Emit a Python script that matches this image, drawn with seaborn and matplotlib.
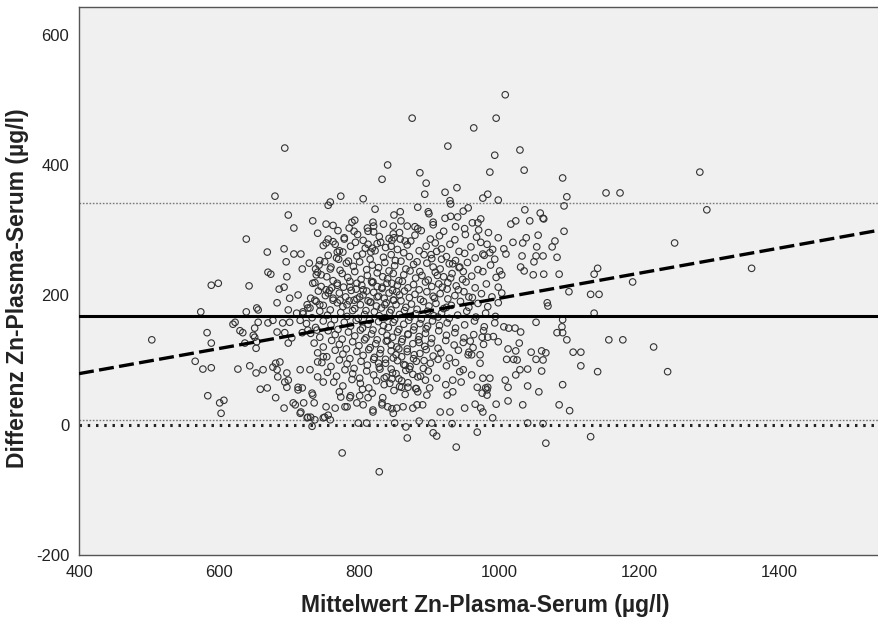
import matplotlib
matplotlib.use("Agg")
import matplotlib.pyplot as plt
import seaborn as sns
import numpy as np
import pandas as pd

# Sparse / outer points: Mittelwert (x) and Differenz (y)
mean_outer = [
    694, 841, 833, 680, 774, 806, 756, 759, 823, 850, 699, 734, 753, 794, 707, 786, 793, 820, 821, 813,
    849, 849, 639, 779, 753, 766, 813, 831, 819, 669, 693, 707, 717, 769, 771, 696, 729, 743, 670, 674,
    719, 759, 739, 746, 697, 846, 850,
    876, 1009, 996, 964, 927, 1030, 994, 1036, 987, 887, 896, 940, 923, 894, 1091, 984, 977, 999, 1097, 1093,
    930, 931, 1153, 1173, 884, 859, 899, 900, 956, 949, 1037, 1059, 1063, 1064, 869, 880, 859, 923, 931, 906,
    941, 970, 974, 951, 971, 1017, 1024, 1044, 1056, 1093, 999, 1039, 1020, 1034, 983, 1080, 1076, 1054, 1033,
    1083, 1053, 1063, 1050, 1007, 1010, 987, 977, 1031, 1036, 1086, 1064, 1141, 1136, 1049, 1001, 1004,
    1287, 1297, 1251, 1361, 1191, 1221, 1241,
    589, 599, 643, 686, 693, 574, 639, 654, 683, 623, 620, 583, 589, 504, 630, 634, 651, 651, 654, 653, 637,
    566, 577, 589, 627, 644, 653, 663, 584, 601, 607, 603, 659, 669, 681, 693, 684, 683, 677, 681, 776, 829,
    706, 721, 736, 717, 753, 766, 731, 726, 733, 749, 756, 783, 820, 841, 854, 799, 811, 851, 713, 719, 733,
    697, 774, 787, 801, 813, 833, 847,
    1131, 1143, 1100, 1069, 1070, 1136, 1053, 1091, 1090, 1083, 1091, 1097, 1157, 1177, 1106, 1117, 1117,
    1141, 1061, 1091, 1057, 1086, 1101, 1067, 1131, 1034, 1041, 1013, 996, 969, 939, 977, 974, 966, 951,
    930, 916, 906, 911, 869, 1041, 1063, 991, 883, 891, 877, 886, 904, 933, 867, 1013, 1024, 1046, 1053,
    1063, 1067, 1011, 1021, 1026, 1030, 1024, 1041, 987, 977, 1009, 1013, 984, 983, 961, 976, 984, 999,
    1029, 1014, 1023, 1031, 1007, 959, 957, 961, 973, 973, 949, 944, 934, 924, 946, 969, 976, 981, 983,
    926, 934, 901, 897, 884, 870, 863, 861, 1061,
    734, 753, 761, 769, 787, 797, 806, 820, 833, 847, 854, 701, 713, 726, 737, 744, 756, 763, 773, 783,
    793, 801, 816, 826, 837, 849, 699, 711, 720, 730, 656, 649, 656, 670, 677, 691, 701, 716, 683, 694,
    704, 699, 719, 727, 740, 687, 697, 694, 699, 716, 713, 709, 734, 741, 749, 730, 741, 749, 716, 727,
    737, 751, 759, 780, 797, 806, 820, 833, 849,
]
diff_outer = [
    426, 400, 378, 352, 352, 348, 338, 343, 332, 323, 323, 314, 309, 315, 303, 303, 298, 312, 306, 298,
    306, 294, 286, 286, 280, 278, 278, 281, 272, 266, 271, 263, 263, 266, 255, 251, 249, 246, 235, 232,
    240, 240, 231, 231, 228, 275, 288,
    472, 508, 472, 457, 429, 423, 415, 392, 389, 388, 372, 365, 358, 355, 380, 355, 349, 346, 351, 337,
    345, 340, 357, 357, 335, 328, 328, 325, 334, 329, 331, 326, 318, 317, 306, 305, 286, 318, 321, 312,
    320, 311, 317, 302, 300, 309, 314, 314, 292, 298, 288, 288, 281, 280, 278, 283, 274, 274, 260,
    258, 260, 260, 251, 271, 263, 265, 263, 243, 237, 232, 232, 241, 232, 231, 237, 231,
    389, 331, 280, 241, 220, 120, 82,
    215, 218, 214, 209, 212, 174, 174, 180, 188, 158, 155, 142, 126, 131, 145, 142, 149, 135, 128, 118, 126,
    98, 86, 88, 86, 91, 80, 85, 45, 34, 38, 18, 55, 57, 42, 26, 74, 85, 89, 95, -43, -72,
    34, 34, 34, 20, 28, 26, 12, 11, -2, 11, 15, 28, 20, 28, 26, 3, 3, 3, 58, 57, 49,
    58, 43, 42, 45, 42, 34, 25,
    201, 201, 205, 188, 183, 172, 158, 162, 151, 142, 142, 131, 131, 131, 112, 112, 91,
    82, 83, 62, 51, 31, 22, -28, -18, 31, 60, 37, 32, -11, -34, 20, 26, 32, 26,
    20, 20, -12, -17, -20, 3, 2, 11, 31, 31, 26, 6, 3, 2, -3, 117, 114, 112, 101,
    100, 111, 101, 101, 100, 85, 77, 86, 72, 72, 69, 58, 58, 54, 77, 135, 135, 128,
    126, 149, 149, 143, 151, 129, 112, 108, 108, 95, 85, 82, 69, 62, 66, 58, 49, 57, 46,
    46, 51, 57, 46, 51, 58, 28, 58, 114,
    218, 208, 211, 215, 212, 218, 208, 220, 212, 218, 205, 195, 200, 185, 192, 185, 203, 195, 192, 185,
    192, 197, 189, 197, 185, 192, 177, 172, 174, 180, 177, 138, 158, 157, 161, 157, 158, 161, 143, 142,
    134, 126, 142, 146, 146, 97, 80, 66, 69, 85, 54, 31, 46, 74, 66, 85, 97, 105, 18, 12,
    8, 12, 8, 28, 34, 31, 23, 31, 18,
]

# Dense central cloud, estimated band by band
mean_core = [
    741, 756, 770, 779, 798, 806, 821, 829, 843, 858, 866, 880, 889, 902, 915, 921, 937, 952, 968, 985,
    749, 763, 772, 788, 795, 809, 817, 826, 838, 847, 855, 869, 874, 886, 896, 909, 918, 930, 943, 960, 974, 991,
    744, 756, 768, 777, 785, 797, 805, 816, 823, 835, 846, 852, 864, 872, 883, 893, 904, 911, 925, 938, 951, 966, 979, 994,
    738, 751, 760, 773, 782, 792, 801, 811, 819, 828, 837, 843, 851, 860, 867, 878, 887, 897, 906, 916, 929, 943, 955, 970, 988,
    741, 754, 763, 776, 784, 794, 803, 812, 818, 826, 834, 841, 849, 857, 864, 873, 881, 890, 899, 909, 921, 933, 948, 961, 977, 996,
    737, 746, 758, 769, 778, 787, 796, 804, 811, 819, 826, 833, 840, 848, 855, 862, 870, 878, 886, 895, 904, 914, 926, 939, 953, 966, 982, 999,
    731, 742, 752, 763, 772, 781, 789, 797, 806, 813, 821, 828, 836, 843, 850, 858, 865, 872, 880, 888, 897, 906, 916, 927, 937, 950, 962, 975, 990, 1004,
    727, 739, 749, 759, 769, 777, 786, 794, 802, 810, 817, 825, 832, 839, 846, 853, 860, 867, 875, 883, 892, 900, 910, 921, 932, 945, 957, 970, 984, 999,
    720, 733, 744, 755, 765, 774, 783, 791, 799, 808, 815, 822, 829, 837, 844, 851, 858, 865, 873, 881, 889, 898, 907, 918, 929, 941, 954, 967, 981, 995,
    725, 738, 749, 760, 770, 779, 788, 796, 805, 813, 820, 828, 835, 842, 849, 857, 864, 871, 879, 887, 896, 905, 915, 926, 938, 951, 965, 979, 994,
    731, 744, 756, 766, 776, 785, 794, 802, 810, 818, 826, 833, 840, 848, 855, 862, 870, 878, 886, 895, 904, 914, 925, 937, 950, 964, 978, 992,
    736, 749, 761, 772, 782, 791, 800, 808, 816, 824, 831, 839, 846, 854, 861, 869, 877, 885, 894, 903, 913, 924, 936, 949, 963, 978,
    741, 754, 766, 777, 787, 797, 806, 814, 822, 830, 838, 846, 853, 861, 869, 878, 887, 896, 906, 917, 929, 942, 956,
    747, 760, 772, 783, 793, 803, 812, 821, 829, 838, 846, 855, 864, 873, 882, 892, 902, 913, 925, 938,
    755, 768, 780, 791, 801, 811, 821, 830, 839, 848, 857, 867, 877, 888, 899, 911,
    764, 777, 790, 802, 814, 825, 836, 847, 858, 870, 882, 895,
    772, 788, 805, 819, 834, 850, 866, 881,
    763, 790, 812, 835, 860, 884, 906, 938, 962,
    836, 844, 853, 861, 872, 884, 828, 849, 866, 879, 893, 857, 841, 870, 886, 898, 913, 925, 908, 919, 931, 944,
    903, 918, 934, 949, 912, 927, 942, 957,
]
diff_core = [
    295, 286, 299, 288, 293, 284, 297, 290, 287, 296, 283, 292, 299, 286, 291, 298, 285, 293, 289, 296,
    276, 282, 268, 275, 281, 272, 266, 279, 273, 284, 270, 277, 283, 268, 275, 280, 271, 278, 267, 274, 281, 270,
    253, 261, 257, 266, 252, 260, 263, 255, 268, 258, 262, 253, 265, 259, 251, 262, 256, 267, 259, 253, 264, 257, 261, 255,
    240, 251, 243, 238, 249, 244, 251, 239, 246, 242, 250, 237, 245, 252, 240, 247, 236, 249, 243, 240, 248, 242, 250, 239, 246,
    235, 228, 222, 233, 227, 236, 224, 230, 221, 234, 228, 225, 233, 222, 231, 237, 226, 230, 223, 235, 228, 233, 224, 229, 236, 227,
    219, 213, 207, 218, 212, 221, 209, 215, 206, 219, 213, 210, 218, 207, 215, 221, 211, 216, 208, 220, 213, 217, 209, 214, 220, 211, 217, 212,
    195, 206, 199, 192, 203, 197, 207, 194, 200, 191, 204, 198, 195, 203, 192, 200, 206, 196, 201, 193, 205, 198, 202, 194, 199, 205, 196, 202, 197, 203,
    180, 190, 184, 177, 188, 182, 191, 179, 185, 176, 189, 183, 180, 188, 177, 185, 191, 181, 186, 178, 190, 183, 187, 179, 184, 190, 181, 187, 182, 188,
    171, 165, 175, 169, 162, 173, 167, 176, 164, 170, 161, 174, 168, 165, 173, 162, 170, 176, 166, 171, 163, 175, 168, 172, 164, 169, 175, 166, 172, 167,
    156, 150, 160, 154, 147, 158, 152, 161, 149, 155, 146, 159, 153, 150, 158, 147, 155, 161, 151, 156, 148, 160, 153, 157, 149, 154, 160, 151, 157,
    141, 135, 145, 139, 132, 143, 137, 146, 134, 140, 131, 144, 138, 135, 143, 132, 140, 146, 136, 141, 133, 145, 138, 142, 134, 139, 145, 136,
    126, 120, 130, 124, 117, 128, 122, 131, 119, 125, 116, 129, 123, 120, 128, 117, 125, 131, 121, 126, 118, 130, 123, 127, 119, 124,
    111, 105, 115, 109, 102, 113, 107, 116, 104, 110, 101, 114, 108, 105, 113, 102, 110, 116, 106, 111, 103, 115, 108,
    96, 90, 100, 94, 87, 98, 92, 101, 89, 95, 86, 99, 93, 90, 98, 87, 95, 101, 91, 96,
    81, 75, 85, 79, 72, 83, 77, 86, 74, 80, 71, 84, 78, 75, 83, 72,
    66, 60, 70, 64, 57, 68, 62, 71, 59, 65, 56, 69,
    51, 45, 55, 49, 42, 53, 47, 56,
    307, 312, 303, 309, 314, 302, 308, 305, 311,
    72, 64, 79, 68, 86, 74, 95, 103, 92, 108, 99, 117, 130, 139, 127, 152, 166, 181, 195, 212, 226, 243,
    262, 255, 248, 236, 230, 219, 208, 197,
]

mean_diff = 168
upper_limit = 341
lower_limit = 8
zero_ref = 0
reg_at_400 = 79
reg_slope = 0.193

x_ticks = [400, 600, 800, 1000, 1200, 1400]
y_ticks = [-200, 0, 200, 400, 600]

sns.set_theme(style="white")
plt.rcParams['font.family'] = ['Liberation Sans', 'DejaVu Sans']
plt.rcParams['axes.unicode_minus'] = False

fig = plt.figure(figsize=(8.79, 6.19), dpi=100)
ax = fig.add_axes([79 / 879, 64 / 619, 800 / 879, 548 / 619])
ax.set_facecolor('#f0f0f0')

df = pd.DataFrame({'Mittelwert': mean_outer + mean_core,
                   'Differenz': diff_outer + diff_core})

xmin, xmax = 400, 1543
ax.axhline(upper_limit, color='#7a7a7a', lw=1.0, ls=(0, (1.2, 1.2)), zorder=1)
ax.axhline(lower_limit, color='#7a7a7a', lw=1.0, ls=(0, (1.2, 1.2)), zorder=1)
ax.axhline(zero_ref, color='#222222', lw=2.2, ls=(0, (0.8, 1.9)), zorder=1)
ax.axhline(mean_diff, color='#000000', lw=2.2, zorder=3)

reg_df = pd.DataFrame({'x': [xmin, xmax],
                       'y': [reg_at_400, reg_at_400 + reg_slope * (xmax - 400)]})
sns.lineplot(data=reg_df, x='x', y='y', ax=ax, color='black', lw=2.4,
             linestyle=(0, (4.5, 1.6)), zorder=3)

sns.scatterplot(data=df, x='Mittelwert', y='Differenz', ax=ax, marker='o',
                facecolors='none', edgecolor='#333333', s=22, linewidth=0.8, zorder=2)

ax.set_xlim(xmin, xmax)
ax.set_ylim(-200, 643)
ax.set_xticks(x_ticks)
ax.set_yticks(y_ticks)
ax.tick_params(axis='both', direction='out', length=5, width=1, color='#555555',
               labelsize=12, labelcolor='#222222', pad=2)
for s in ax.spines.values():
    s.set_color('#555555')
    s.set_linewidth(1.0)

ax.set_xlabel('Mittelwert Zn-Plasma-Serum (µg/l)', fontsize=16.5, fontweight='bold',
              color='#222222')
ax.set_ylabel('Differenz Zn-Plasma-Serum (µg/l)', fontsize=16.5, fontweight='bold',
              color='#222222')
ax.xaxis.set_label_coords(0.5075, -0.072)
ax.yaxis.set_label_coords(-0.062, 0.487)

fig.savefig('out.png', dpi=100, facecolor='white')
